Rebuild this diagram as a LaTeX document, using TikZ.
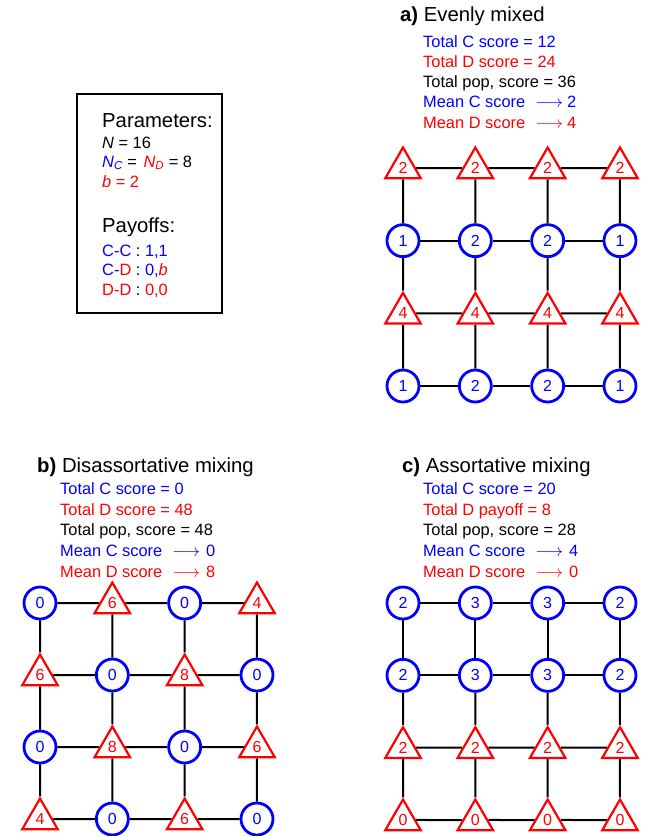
\documentclass[tikz,border=0pt]{standalone}
\usepackage{fontspec}
\setmainfont{Liberation Sans}
\usetikzlibrary{shapes.geometric}
\definecolor{cblue}{RGB}{0,0,255}
\definecolor{dred}{RGB}{255,0,0}
\pgfdeclarelayer{bg}
\pgfsetlayers{bg,main}
\begin{document}
\begin{tikzpicture}[x=1pt,y=-1pt,
 coop/.style={circle,draw=cblue,line width=2.8pt,fill=white,minimum size=32pt,inner sep=0pt,text=cblue,font=\fontsize{16}{16}\selectfont},
 defe/.style={regular polygon,regular polygon sides=3,draw=dred,line width=2.2pt,fill=white,minimum size=41pt,inner sep=0pt,text=dred,font=\fontsize{16}{16}\selectfont},
 link/.style={line width=2pt,black},
 stat/.style={anchor=base west,inner sep=0pt,font=\fontsize{16.4}{16.4}\selectfont},
 ttl/.style={anchor=base west,inner sep=0pt,font=\fontsize{20.3}{20.3}\selectfont},
 pbox/.style={draw,line width=2.6pt,inner sep=0pt,minimum width=145pt,minimum height=219pt}]
\useasboundingbox (0,0) rectangle (645,836);

% parameters box
\node[pbox] (box) at (149.5,203.5) {};
\node[ttl] (p1) at (102,127) {Parameters:};
\node[stat] (p2) at (102,148) {\textit{N} = 16};
\node[stat] (p3) at (102,167) {\textcolor{cblue}{\textit{N}\textsubscript{\textit{C}}} = \hspace{2pt}\textcolor{dred}{\textit{N}\textsubscript{\textit{D}}} = 8};
\node[stat,text=dred] (p4) at (102,187) {\textit{b} = 2};
\node[ttl] (p5) at (102,232) {Payoffs:};
\node[stat] (p6) at (102,256) {\textcolor{cblue}{C-C} : \textcolor{cblue}{1,1}};
\node[stat] (p7) at (102,275.5) {\textcolor{cblue}{C-}\textcolor{dred}{D} : \textcolor{cblue}{0,}\textcolor{dred}{\textit{b}}};
\node[stat] (p8) at (102,295) {\textcolor{dred}{D-D} : \textcolor{dred}{0,0}};

% titles and stats
\node[ttl] (ta) at (400,21.7) {\textbf{a)} Evenly mixed};
\node[stat,text=cblue] (a1) at (423,47) {Total C score = 12};
\node[stat,text=dred] (a2) at (423,67.3) {Total D score = 24};
\node[stat] (a3) at (423,87.5) {Total pop, score = 36};
\node[stat,text=cblue] (a4) at (423,107.8) {Mean C score\hspace{10pt}$\longrightarrow$\hspace{4pt}2};
\node[stat,text=dred] (a5) at (423,128) {Mean D score\hspace{10pt}$\longrightarrow$\hspace{4pt}4};

\node[ttl] (tb) at (37,472) {\textbf{b)} Disassortative mixing};
\node[stat,text=cblue] (b1) at (60,494) {Total C score = 0};
\node[stat,text=dred] (b2) at (60,515) {Total D score = 48};
\node[stat] (b3) at (60,535.5) {Total pop, score = 48};
\node[stat,text=cblue] (b4) at (60,556.5) {Mean C score\hspace{10pt}$\longrightarrow$\hspace{6pt}0};
\node[stat,text=dred] (b5) at (60,577) {Mean D score\hspace{10pt}$\longrightarrow$\hspace{6pt}8};

\node[ttl] (tc) at (402,472) {\textbf{c)} Assortative mixing};
\node[stat,text=cblue] (c1) at (423,494) {Total C score = 20};
\node[stat,text=dred] (c2) at (423,515) {Total D payoff = 8};
\node[stat] (c3) at (423,535.5) {Total pop, score = 28};
\node[stat,text=cblue] (c4) at (423,556.5) {Mean C score\hspace{10pt}$\longrightarrow$\hspace{6pt}4};
\node[stat,text=dred] (c5) at (423,577) {Mean D score\hspace{10pt}$\longrightarrow$\hspace{6pt}0};

% grid a
\foreach \r/\c/\t/\v in {1/1/defe/2,1/2/defe/2,1/3/defe/2,1/4/defe/2,
  2/1/coop/1,2/2/coop/2,2/3/coop/2,2/4/coop/1,
  3/1/defe/4,3/2/defe/4,3/3/defe/4,3/4/defe/4,
  4/1/coop/1,4/2/coop/2,4/3/coop/2,4/4/coop/1}
  \node[\t] (a-\r-\c) at ({403+72.33*(\c-1)},{168+72.67*(\r-1)}) {\v};
% grid b
\foreach \r/\c/\t/\v in {1/1/coop/0,1/2/defe/6,1/3/coop/0,1/4/defe/4,
  2/1/defe/6,2/2/coop/0,2/3/defe/8,2/4/coop/0,
  3/1/coop/0,3/2/defe/8,3/3/coop/0,3/4/defe/6,
  4/1/defe/4,4/2/coop/0,4/3/defe/6,4/4/coop/0}
  \node[\t] (b-\r-\c) at ({40+72.33*(\c-1)},{603+72*(\r-1)}) {\v};
% grid c
\foreach \r/\c/\t/\v in {1/1/coop/2,1/2/coop/3,1/3/coop/3,1/4/coop/2,
  2/1/coop/2,2/2/coop/3,2/3/coop/3,2/4/coop/2,
  3/1/defe/2,3/2/defe/2,3/3/defe/2,3/4/defe/2,
  4/1/defe/0,4/2/defe/0,4/3/defe/0,4/4/defe/0}
  \node[\t] (c-\r-\c) at ({403+72.33*(\c-1)},{603+72.33*(\r-1)}) {\v};

\begin{pgfonlayer}{bg}
\foreach \g in {a,b,c}{
  \foreach \r in {1,...,4}{
    \foreach \c in {1,2,3}{
      \pgfmathtruncatemacro\n{\c+1}
      \draw[link] (\g-\r-\c) -- (\g-\r-\n);
      \draw[link] (\g-\c-\r) -- (\g-\n-\r);
    }
  }
}
\end{pgfonlayer}
\end{tikzpicture}
\end{document}
